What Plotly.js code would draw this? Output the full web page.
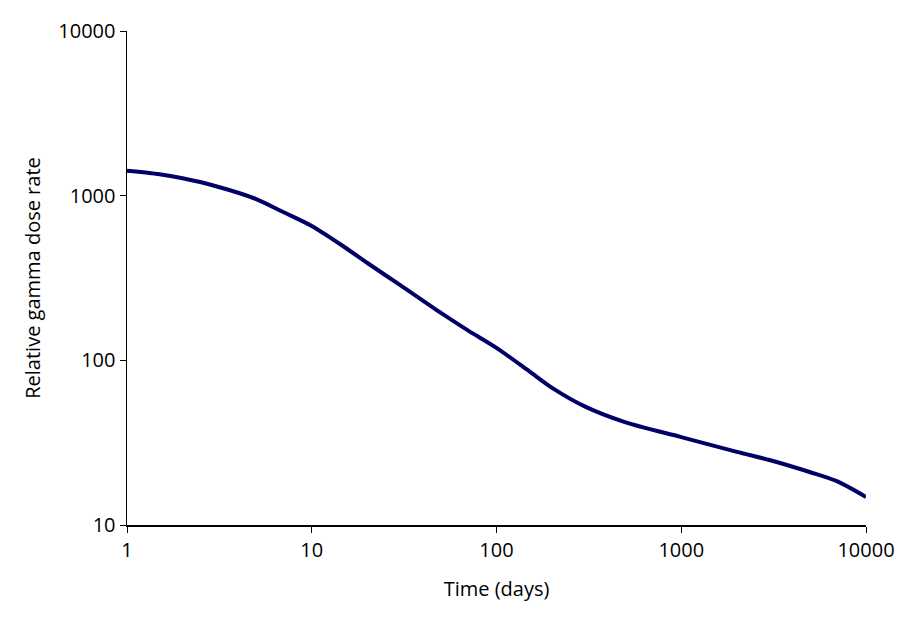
<!DOCTYPE html>
<html>
<head>
<meta charset="utf-8">
<script src="https://cdn.plot.ly/plotly-3.0.1.min.js"></script>
<style>
  html, body { margin: 0; padding: 0; background: #fff; }
  #chart { width: 911px; height: 623px; }
</style>
</head>
<body>
<div id="chart"></div>
<script>
// time in days and relative gamma dose rate
var days = [1, 1.5, 2, 3, 5, 7, 10, 15, 20, 30, 50, 70, 100, 150, 200, 300, 500, 1000, 2000, 3000, 5000, 7000, 10000];
var doseRate = [1418, 1350, 1275, 1145, 954, 796, 654, 488, 390, 287, 194, 152, 119, 86, 68, 52.5, 42, 34.2, 27.8, 24.8, 20.9, 18.4, 14.8];

var xTicks = [1, 10, 100, 1000, 10000];
var yTicks = [10, 100, 1000, 10000];

var curve = {
  x: days,
  y: doseRate,
  type: "scatter",
  mode: "lines",
  line: { color: "#000066", width: 4, shape: "spline", smoothing: 0.8 },
  hoverinfo: "skip"
};

var textFont = { family: "Open Sans, Liberation Sans, sans-serif", size: 20, color: "#000" };

var layout = {
  width: 911,
  height: 623,
  paper_bgcolor: "#fff",
  plot_bgcolor: "#fff",
  showlegend: false,
  margin: { l: 127, r: 45, t: 31, b: 98 },
  xaxis: {
    type: "log",
    range: [0, 4],
    tickvals: xTicks,
    ticktext: xTicks.map(String),
    showgrid: false,
    zeroline: false,
    showline: true,
    linecolor: "#000",
    linewidth: 1.5,
    ticks: "outside",
    ticklen: 6,
    tickcolor: "#000",
    tickfont: textFont,
    title: { text: "Time (days)", font: textFont, standoff: 20 },
    automargin: false
  },
  yaxis: {
    type: "log",
    range: [1, 4],
    tickvals: yTicks,
    ticktext: yTicks.map(String),
    showgrid: false,
    zeroline: false,
    showline: true,
    linecolor: "#000",
    linewidth: 1.5,
    ticks: "outside",
    ticklen: 6,
    tickcolor: "#000",
    tickfont: textFont,
    title: { text: "Relative gamma dose rate", font: textFont, standoff: 12 },
    automargin: false
  }
};

Plotly.newPlot("chart", [curve], layout, { displayModeBar: false, staticPlot: true });
</script>
</body>
</html>
